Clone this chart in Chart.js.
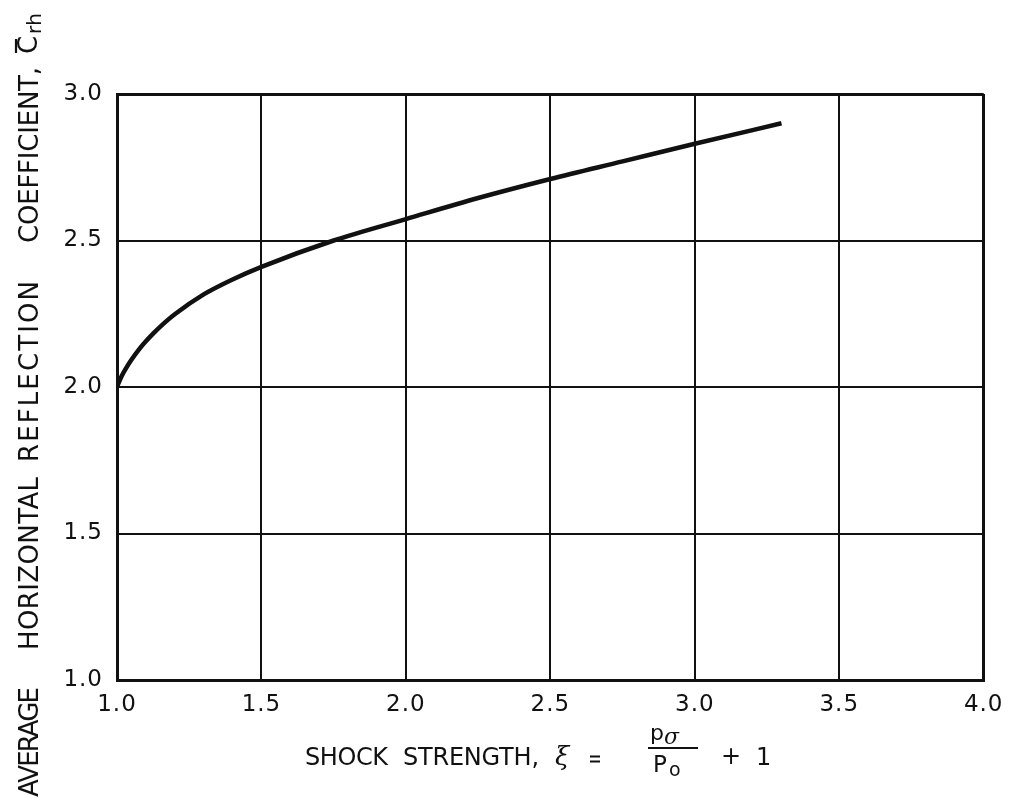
<!DOCTYPE html>
<html>
<head>
<meta charset="utf-8">
<script src="https://cdn.jsdelivr.net/npm/chart.js@4.4.1/dist/chart.umd.min.js"></script>
<style>
  html, body { margin: 0; padding: 0; background: #fff; }
  #wrap { width: 1013px; height: 798px; }
</style>
</head>
<body>
<div id="wrap"><canvas id="chart" width="1013" height="798"></canvas></div>
<script>
// values
const shockStrength = [1.0, 1.015, 1.03, 1.05, 1.075, 1.1, 1.125, 1.15, 1.2, 1.3, 1.4, 1.5, 1.75, 2.0, 2.25, 2.5, 2.75, 3.0, 3.3];
const reflectionCoef = [2.0, 2.035, 2.062, 2.093, 2.127, 2.156, 2.182, 2.206, 2.248, 2.316, 2.367, 2.41, 2.5, 2.573, 2.645, 2.71, 2.77, 2.83, 2.9];

const xTickValues = [1.0, 1.5, 2.0, 2.5, 3.0, 3.5, 4.0];
const yTickValues = [1.0, 1.5, 2.0, 2.5, 3.0];

const FONT = 'DejaVu Sans';
const INK = '#111';

// stretch or squeeze one word so it covers `span` pixels, starting at x
function fitWord(ctx, text, x, y, span) {
    ctx.letterSpacing = '0px';
    const w = ctx.measureText(text).width;
    const ls = (span - w) / (text.length - 1);
    ctx.letterSpacing = ls.toFixed(2) + 'px';
    ctx.fillText(text, x, y);
    ctx.letterSpacing = '0px';
}

// axis titles are drawn by hand: they need an overbar, a subscript and a fraction
const titles = {
    id: 'titles',
    beforeDraw(chart) {
        chart.ctx.letterSpacing = '1px';
    },
    afterDraw(chart) {
        const ctx = chart.ctx;
        ctx.save();
        ctx.letterSpacing = '0px';
        ctx.fillStyle = INK;
        ctx.strokeStyle = INK;

        // y title, rotated; words placed at their page-y spans (bottom, top)
        ctx.save();
        ctx.translate(38, 0);
        ctx.rotate(-Math.PI / 2);
        ctx.font = '26px ' + FONT;
        ctx.textBaseline = 'alphabetic';
        ctx.textAlign = 'left';
        const yWords = [
            ['AVERAGE', 797, 687],
            ['HORIZONTAL', 650, 477],
            ['REFLECTION', 462, 281],
            ['COEFFICIENT,', 243, 67],
        ];
        yWords.forEach(([t, b, top]) => fitWord(ctx, t, -b, 0, b - top));
        // C-bar with subscript rh
        ctx.fillText('C', -54, -1);
        ctx.lineWidth = 2.2;
        ctx.beginPath();
        ctx.moveTo(-53, -22);
        ctx.lineTo(-39, -22);
        ctx.stroke();
        ctx.font = '20px ' + FONT;
        fitWord(ctx, 'rh', -34, 3, 21);
        ctx.restore();

        // x title
        ctx.font = '24px ' + FONT;
        ctx.textBaseline = 'alphabetic';
        ctx.textAlign = 'left';
        const base = 765;
        fitWord(ctx, 'SHOCK', 305, base, 83);
        fitWord(ctx, 'STRENGTH,', 403, base, 136);
        ctx.font = 'italic 26px DejaVu Serif';
        ctx.fillText('\u03BE', 555, base);
        ctx.lineWidth = 2;
        // small equals sign
        ctx.beginPath();
        ctx.moveTo(590, 756.5); ctx.lineTo(600, 756.5);
        ctx.moveTo(590, 761.5); ctx.lineTo(600, 761.5);
        ctx.stroke();
        // fraction p_sigma / P_o
        ctx.font = '22px ' + FONT;
        ctx.fillText('p', 650, 740);
        ctx.font = 'italic 22px DejaVu Serif';
        ctx.fillText('\u03C3', 664, 744);
        ctx.lineWidth = 2.2;
        ctx.beginPath();
        ctx.moveTo(648, 748);
        ctx.lineTo(698, 748);
        ctx.stroke();
        ctx.font = '23px ' + FONT;
        ctx.fillText('P', 653, 772);
        ctx.font = '19px ' + FONT;
        ctx.fillText('o', 669, 776);
        ctx.font = '24px ' + FONT;
        ctx.fillText('+', 721, base - 1);
        ctx.fillText('1', 756, base);
        ctx.restore();
    }
};

const edgeWidth = (ctx, n) => (ctx.index === 0 || ctx.index === n - 1) ? 3 : 2;

new Chart(document.getElementById('chart'), {
    type: 'line',
    data: {
        datasets: [{
            data: shockStrength.map((x, i) => ({ x, y: reflectionCoef[i] })),
            borderColor: INK,
            borderWidth: 4.5,
            pointRadius: 0,
            fill: false,
            cubicInterpolationMode: 'monotone',
        }],
    },
    options: {
        responsive: false,
        animation: false,
        layout: { padding: { top: 94, right: 29, left: 0, bottom: 0 } },
        plugins: { legend: { display: false }, tooltip: { enabled: false } },
        scales: {
            x: {
                type: 'linear',
                min: 1.0,
                max: 4.0,
                afterBuildTicks: s => { s.ticks = xTickValues.map(v => ({ value: v })); },
                afterFit: s => { s.height = 118; },
                grid: { color: INK, lineWidth: c => edgeWidth(c, xTickValues.length), drawTicks: false },
                border: { color: INK, width: 3 },
                ticks: {
                    color: INK,
                    font: { family: FONT, size: 23 },
                    padding: 11,
                    maxRotation: 0,
                    callback: v => v.toFixed(1),
                },
            },
            y: {
                type: 'linear',
                min: 1.0,
                max: 3.0,
                afterBuildTicks: s => { s.ticks = yTickValues.map(v => ({ value: v })); },
                afterFit: s => { s.width = 117; },
                grid: { color: INK, lineWidth: c => edgeWidth(c, yTickValues.length), drawTicks: false },
                border: { color: INK, width: 3 },
                ticks: {
                    color: INK,
                    font: { family: FONT, size: 23 },
                    padding: 14,
                    callback: v => v.toFixed(1),
                },
            },
        },
    },
    plugins: [titles],
});
</script>
</body>
</html>
